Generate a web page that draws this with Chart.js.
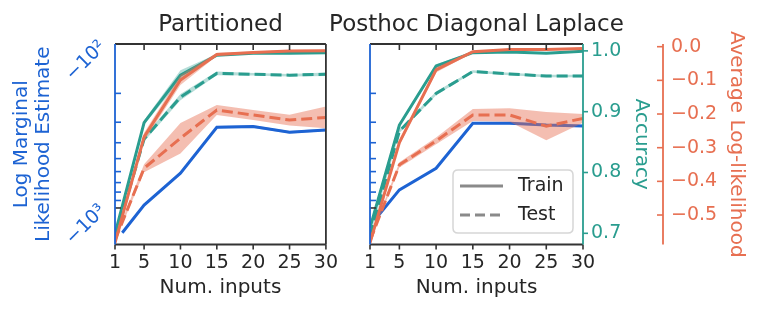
<!DOCTYPE html>
<html><head><meta charset="utf-8">
<script src="https://cdn.jsdelivr.net/npm/chart.js@4.4.0/dist/chart.umd.min.js"></script>
<style>
html,body{margin:0;padding:0;background:#fff;}
#wrap{position:relative;width:760px;height:311px;overflow:hidden;background:#fff;}
#c1{position:absolute;left:0;top:0;}
#c2{position:absolute;left:300px;top:0;}
</style></head><body>
<div id="wrap"><canvas id="c1" width="345" height="311"></canvas><canvas id="c2" width="460" height="311"></canvas></div>
<script>
// ---------- data ----------
const numInputs = [1, 5, 10, 15, 20, 25, 30];
const lmlInputs = [2, 5, 10, 15, 20, 25, 30];
const xTickValues = [1, 5, 10, 15, 20, 25, 30];
const lmlTickValues = [100, 200, 300, 400, 500, 600, 700, 800, 900, 1000];
const accTickValues = [0.7, 0.8, 0.9, 1.0];
const llTickValues = [0.0, -0.1, -0.2, -0.3, -0.4, -0.5];
const panelTitles = ['Partitioned', 'Posthoc Diagonal Laplace'];

// Partitioned
const partLml = [-1415, -959, -614, -322, -319, -345, -334];
const partLmlStd = [20, 15, 10, 6, 6, 6, 6];
const partTrainAcc = [0.699, 0.882, 0.960, 0.993, 0.996, 0.996, 0.997];
const partTrainAccStd = [0.002, 0.004, 0.008, 0.002, 0.001, 0.001, 0.001];
const partTestAcc = [0.692, 0.855, 0.924, 0.963, 0.9615, 0.960, 0.9615];
const partTestAccStd = [0.002, 0.004, 0.005, 0.003, 0.002, 0.002, 0.003];
const partTrainLL = [-0.583, -0.268, -0.099, -0.023, -0.017, -0.013, -0.012];
const partTrainLLStd = [0.005, 0.012, 0.015, 0.005, 0.003, 0.003, 0.003];
const partTestLL = [-0.575, -0.361, -0.272, -0.188, -0.203, -0.218, -0.210];
const partTestLLStd = [0.005, 0.012, 0.045, 0.015, 0.015, 0.016, 0.032];

// Posthoc Diagonal Laplace
const lapLml = [-1130, -776, -573, -304, -304, -312, -316];
const lapLmlStd = [15, 10, 8, 5, 5, 5, 5];
const lapTrainAcc = [0.709, 0.878, 0.975, 0.997, 0.998, 0.996, 0.9995];
const lapTrainAccStd = [0.002, 0.003, 0.003, 0.001, 0.001, 0.001, 0.001];
const lapTestAcc = [0.696, 0.868, 0.930, 0.966, 0.962, 0.9587, 0.9587];
const lapTestAccStd = [0.002, 0.003, 0.003, 0.002, 0.002, 0.002, 0.002];
const lapTrainLL = [-0.583, -0.285, -0.069, -0.015, -0.008, -0.008, -0.005];
const lapTrainLLStd = [0.005, 0.008, 0.008, 0.003, 0.002, 0.002, 0.002];
const lapTestLL = [-0.577, -0.351, -0.280, -0.203, -0.203, -0.236, -0.213];
const lapTestLLStd = [0.005, 0.008, 0.010, 0.018, 0.020, 0.042, 0.013];

// ---------- style ----------
const BLUE = '#1d63d3', TEAL = '#2a9d8f', ORANGE = '#e76f51', DARK = '#262626', SPINE = '#333333';
const FONT = '"DejaVu Sans", sans-serif';
Chart.defaults.font.family = FONT;
function rgba(hex, a) {
  const n = parseInt(hex.slice(1), 16);
  return `rgba(${(n >> 16) & 255},${(n >> 8) & 255},${n & 255},${a})`;
}
const mag = v => -v; // log axis shows magnitude of negative LML

function band(xs, mean, std, axis, color, alpha, order, tf) {
  tf = tf || (v => v);
  return [
    { data: xs.map((x, i) => ({ x, y: tf(mean[i]) + std[i] })), yAxisID: axis, borderWidth: 0, pointRadius: 0, fill: false, order, backgroundColor: rgba(color, alpha), borderColor: 'transparent', clip: 0 },
    { data: xs.map((x, i) => ({ x, y: tf(mean[i]) - std[i] })), yAxisID: axis, borderWidth: 0, pointRadius: 0, fill: '-1', order, backgroundColor: rgba(color, alpha), borderColor: 'transparent', clip: 0 }
  ];
}
function line(xs, vals, axis, color, dashed, order, tf) {
  tf = tf || (v => v);
  return { data: xs.map((x, i) => ({ x, y: tf(vals[i]) })), yAxisID: axis, borderColor: color, borderWidth: 3,
    borderDash: dashed ? [11, 5] : [], pointRadius: 0, fill: false, tension: 0, order, clip: 0 };
}
function datasets(lml, lmlStd, trA, trAS, teA, teAS, trL, trLS, teL, teLS) {
  return [].concat(
    band(lmlInputs, lml, lmlStd, 'yL', BLUE, 0.35, 60, mag),
    [line(lmlInputs, lml, 'yL', BLUE, false, 55, mag)],
    band(numInputs, trA, trAS, 'yAcc', TEAL, 0.35, 50),
    band(numInputs, teA, teAS, 'yAcc', TEAL, 0.35, 50),
    [line(numInputs, trA, 'yAcc', TEAL, false, 45)],
    [line(numInputs, teA, 'yAcc', TEAL, true, 44)],
    band(numInputs, trL, trLS, 'yLL', ORANGE, 0.4, 40),
    band(numInputs, teL, teLS, 'yLL', ORANGE, 0.45, 40),
    [line(numInputs, trL, 'yLL', ORANGE, false, 35)],
    [line(numInputs, teL, 'yLL', ORANGE, true, 34)]
  );
}

// ---------- frame / ticks / title / legend plugin ----------
const framePlugin = {
  id: 'frame',
  afterDraw(chart, args, opts) {
    const { ctx, chartArea: a, scales } = chart;
    ctx.save();
    const seg = (x1, y1, x2, y2, c, w) => { ctx.beginPath(); ctx.strokeStyle = c; ctx.lineWidth = w || 1.6; ctx.moveTo(x1, y1); ctx.lineTo(x2, y2); ctx.stroke(); };
    const xs = scales.x;
    xs.ticks.forEach(t => {
      const px = xs.getPixelForValue(t.value);
      seg(px, a.bottom, px, a.bottom + 5, SPINE);
      if (t.value > xs.min && t.value < xs.max) seg(px, a.top, px, a.top + 6, SPINE);
    });
    const yl = scales.yL;
    yl.ticks.forEach(t => {
      const py = yl.getPixelForValue(t.value);
      seg(a.left, py, a.left + 6, py, t.value === 1000 ? SPINE : BLUE);
    });
    if (opts.right) {
      const ya = scales.yAcc;
      ya.ticks.forEach(t => { const py = ya.getPixelForValue(t.value); seg(a.right, py, a.right + 5, py, TEAL); });
      const ys = scales.yLL;
      seg(ys.left, ys.top, ys.left, ys.bottom, ORANGE, 1.8);
      ys.ticks.forEach(t => { const py = ys.getPixelForValue(t.value); seg(ys.left - 6, py, ys.left, py, ORANGE); });
    }
    // spines
    seg(a.left, a.top, a.right, a.top, SPINE, 1.8);
    seg(a.left, a.bottom, a.right, a.bottom, SPINE, 1.8);
    seg(a.right, a.top, a.right, a.bottom, opts.right ? TEAL : SPINE, 1.8);
    seg(a.left, a.top, a.left, a.bottom, BLUE, 1.8);
    // title
    ctx.fillStyle = DARK;
    ctx.font = '23px ' + FONT;
    ctx.textAlign = 'center';
    ctx.textBaseline = 'alphabetic';
    ctx.fillText(opts.title, (a.left + a.right) / 2, 31);
    // legend
    if (opts.legend) {
      const bx = a.left + 83, by = a.top + 126, bw = 120, bh = 63, r = 5;
      ctx.beginPath();
      ctx.moveTo(bx + r, by); ctx.lineTo(bx + bw - r, by); ctx.quadraticCurveTo(bx + bw, by, bx + bw, by + r);
      ctx.lineTo(bx + bw, by + bh - r); ctx.quadraticCurveTo(bx + bw, by + bh, bx + bw - r, by + bh);
      ctx.lineTo(bx + r, by + bh); ctx.quadraticCurveTo(bx, by + bh, bx, by + bh - r);
      ctx.lineTo(bx, by + r); ctx.quadraticCurveTo(bx, by, bx + r, by);
      ctx.closePath();
      ctx.fillStyle = 'rgba(255,255,255,0.8)'; ctx.fill();
      ctx.strokeStyle = '#d6d6d6'; ctx.lineWidth = 1.5; ctx.stroke();
      ctx.strokeStyle = '#8a8a8a'; ctx.lineWidth = 3;
      ctx.setLineDash([]);
      ctx.beginPath(); ctx.moveTo(bx + 7, by + 16); ctx.lineTo(bx + 50, by + 16); ctx.stroke();
      ctx.setLineDash([10, 5]);
      ctx.beginPath(); ctx.moveTo(bx + 7, by + 45); ctx.lineTo(bx + 50, by + 45); ctx.stroke();
      ctx.setLineDash([]);
      ctx.fillStyle = DARK; ctx.font = '19px ' + FONT; ctx.textAlign = 'left'; ctx.textBaseline = 'middle';
      ctx.fillText('Train', bx + 65, by + 16);
      ctx.fillText('Test', bx + 65, by + 45);
    }
    ctx.restore();
  }
};

const ACC_MIN = 0.6816, ACC_MAX = 1.0113, LL_MIN = -0.5876, LL_MAX = 0.008, LML_MIN = 100, LML_MAX = 1670;
const noGrid = { display: false, drawTicks: false, tickLength: 0 };

function xScale() {
  return {
    type: 'linear', min: 1, max: 30,
    afterBuildTicks: s => { s.ticks = xTickValues.map(v => ({ value: v })); },
    afterFit: s => { s.height = 66.5; },
    grid: noGrid, border: { display: false },
    ticks: { padding: 7, color: DARK, font: { size: 19 }, autoSkip: false, maxRotation: 0, callback: v => String(v) },
    title: { display: true, text: 'Num. inputs', color: DARK, font: { size: 20 }, padding: { top: 0, bottom: 11 } }
  };
}
function lmlScale(showLabels, width) {
  return {
    type: 'logarithmic', position: 'left', reverse: true, min: LML_MIN, max: LML_MAX,
    afterBuildTicks: s => { s.ticks = lmlTickValues.map(v => ({ value: v })); },
    afterFit: s => { s.width = width; },
    grid: noGrid, border: { display: false },
    ticks: { display: showLabels, minRotation: 45, maxRotation: 45, padding: 12, color: BLUE, font: { size: 19 }, autoSkip: false,
      callback: v => v === 100 ? '−10²' : (v === 1000 ? '−10³' : '') },
    title: { display: showLabels, text: ['Log Marginal', 'Likelihood Estimate'], color: BLUE, font: { size: 20, lineHeight: 1.1 }, padding: { top: 11 } }
  };
}

const chart1 = new Chart(document.getElementById('c1'), {
  type: 'line',
  data: { datasets: datasets(partLml, partLmlStd, partTrainAcc, partTrainAccStd, partTestAcc, partTestAccStd, partTrainLL, partTrainLLStd, partTestLL, partTestLLStd) },
  options: {
    responsive: false, animation: false, events: [],
    layout: { padding: { top: 44, right: 17, left: 0, bottom: 0 } },
    plugins: { legend: { display: false }, tooltip: { enabled: false }, frame: { title: panelTitles[0], right: false, legend: false } },
    scales: {
      x: xScale(),
      yL: lmlScale(true, 115),
      yAcc: { type: 'linear', display: false, min: ACC_MIN, max: ACC_MAX },
      yLL: { type: 'linear', display: false, min: LL_MIN, max: LL_MAX }
    }
  },
  plugins: [framePlugin]
});

const chart2 = new Chart(document.getElementById('c2'), {
  type: 'line',
  data: { datasets: datasets(lapLml, lapLmlStd, lapTrainAcc, lapTrainAccStd, lapTestAcc, lapTestAccStd, lapTrainLL, lapTrainLLStd, lapTestLL, lapTestLLStd) },
  options: {
    responsive: false, animation: false, events: [],
    layout: { padding: { top: 44, right: 0, left: 0, bottom: 0 } },
    plugins: { legend: { display: false }, tooltip: { enabled: false }, frame: { title: panelTitles[1], right: true, legend: true } },
    scales: {
      x: xScale(),
      yL: lmlScale(false, 70),
      yAcc: {
        type: 'linear', position: 'right', weight: 0, min: ACC_MIN, max: ACC_MAX,
        afterBuildTicks: s => { s.ticks = accTickValues.map(v => ({ value: v })); },
        afterFit: s => { s.width = 80; },
        grid: noGrid, border: { display: false },
        ticks: { padding: 8, color: TEAL, font: { size: 19 }, autoSkip: false, callback: v => v.toFixed(1) },
        title: { display: true, text: 'Accuracy', color: TEAL, font: { size: 20 }, padding: { top: 10 } }
      },
      yLL: {
        type: 'linear', position: 'right', weight: 1, min: LL_MIN, max: LL_MAX,
        afterBuildTicks: s => { s.ticks = llTickValues.map(v => ({ value: v })); },
        afterFit: s => { s.width = 97; },
        grid: noGrid, border: { display: false },
        ticks: { padding: 8, color: ORANGE, font: { size: 19 }, autoSkip: false, callback: v => (v < -1e-9 ? '−' : '') + Math.abs(v).toFixed(1) },
        title: { display: true, text: 'Average Log-likelihood', color: ORANGE, font: { size: 20 }, padding: { top: 12 } }
      }
    }
  },
  plugins: [framePlugin]
});
</script>
</body></html>
